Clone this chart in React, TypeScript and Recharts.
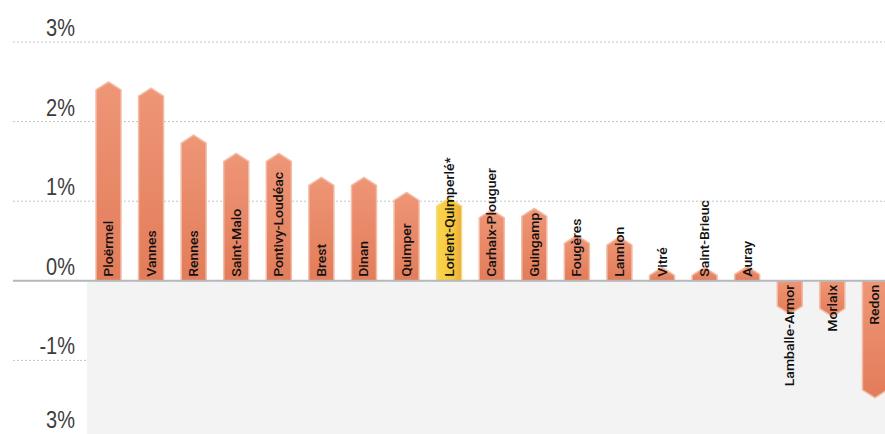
import React from 'react';
import { BarChart, Bar, XAxis, YAxis, CartesianGrid, ReferenceLine, ReferenceArea } from 'recharts';

const cities = [
  'Ploërmel', 'Vannes', 'Rennes', 'Saint-Malo', 'Pontivy-Loudéac', 'Brest', 'Dinan', 'Quimper',
  'Lorient-Quimperlé*', 'Carhaix-Plouguer', 'Guingamp', 'Fougères', 'Lannion', 'Vitré',
  'Saint-Brieuc', 'Auray', 'Lamballe-Armor', 'Morlaix', 'Redon',
];
const growth = [2.5, 2.42, 1.83, 1.6, 1.6, 1.3, 1.3, 1.11, 1.04, 0.89, 0.91, 0.57, 0.55, 0.17, 0.17, 0.18, -0.42, -0.45, -1.47];
const highlighted = ['Lorient-Quimperlé*'];
const yTicks = [-2, -1, 0, 1, 2, 3];
const yTickLabels = ['3%', '-1%', '0%', '1%', '2%', '3%'];

const data = cities.map((city, i) => ({ city, value: growth[i] }));

const FONT = "'Liberation Sans', Arial, sans-serif";
const LABEL_FONT = "Roboto, 'Liberation Sans', Arial, sans-serif";

const ArrowBar = (props: any) => {
  const { x, y, width, height, payload } = props;
  const top = Math.min(y, y + height);
  const bot = Math.max(y, y + height);
  const neg = payload.value < 0;
  const tip = Math.min(8, bot - top);
  const cx = x + width / 2;
  const pts = neg
    ? [[x, top], [x + width, top], [x + width, bot - tip], [cx, bot], [x, bot - tip]]
    : [[x, bot], [x, top + tip], [cx, top], [x + width, top + tip], [x + width, bot]];
  const hi = highlighted.includes(payload.city);
  return (
    <g>
      <polygon
        points={pts.map((p) => p.join(',')).join(' ')}
        fill={hi ? 'url(#gradHi)' : 'url(#gradBar)'}
        stroke={hi ? '#f7dc86' : '#f3bca6'}
        strokeWidth={1.5}
        strokeLinejoin="round"
      />
      <text
        transform={`translate(${cx + 4.5},${neg ? top + 4 : bot - 4}) rotate(-90) scale(1.12,1)`}
        textAnchor={neg ? 'end' : 'start'}
        fontSize={12.5}
        fontWeight={500}
        fontFamily={LABEL_FONT}
        fill="#111"
      >
        {payload.city}
      </text>
    </g>
  );
};

const YTick = (props: any) => {
  const { x, y, payload } = props;
  const i = yTicks.indexOf(payload.value);
  return (
    <g>
      {payload.value === 0 && <line x1={x} x2={x + 67} y1={y} y2={y} stroke="#b5b9bc" strokeWidth={2} />}
      <text
        transform={`translate(${x + 62},${Math.min(y - 6, 428)}) scale(1,1.15)`}
        textAnchor="end"
        fontSize={20}
        fontFamily={FONT}
        fill="#3c3c3c"
      >
        {yTickLabels[i]}
      </text>
    </g>
  );
};

export default function App() {
  return (
    <div style={{ position: 'absolute', left: 0, top: 0, width: 885, height: 434, overflow: 'hidden', background: '#fff' }}>
      <BarChart width={900} height={440} data={data} margin={{ top: 42, right: 4, bottom: 0, left: 0 }}>
        <defs>
          <linearGradient id="gradBar" x1="0" y1="0" x2="0" y2="1">
            <stop offset="0%" stopColor="#ee9676" />
            <stop offset="100%" stopColor="#e27c5a" />
          </linearGradient>
          <linearGradient id="gradHi" x1="0" y1="0" x2="1" y2="0">
            <stop offset="0%" stopColor="#f9d64c" />
            <stop offset="70%" stopColor="#f5c53c" />
            <stop offset="100%" stopColor="#eea53a" />
          </linearGradient>
        </defs>
        <ReferenceArea y1={-2} y2={0} fill="#f3f3f3" fillOpacity={1} stroke="none" />
        <CartesianGrid vertical={false} stroke="#c4c4c4" strokeDasharray="2 2" />
        <XAxis dataKey="city" hide padding={{ left: 7, right: 0 }} />
        <YAxis
          width={80}
          domain={[-2, 3]}
          ticks={yTicks}
          interval={0}
          axisLine={false}
          tickSize={67}
          tickMargin={0}
          tickLine={{ stroke: '#c4c4c4', strokeDasharray: '2 2' }}
          tick={<YTick />}
        />
        <Bar dataKey="value" barSize={25} shape={<ArrowBar />} isAnimationActive={false} />
        <ReferenceLine y={0} stroke="#b5b9bc" strokeWidth={2} />
      </BarChart>
    </div>
  );
}
